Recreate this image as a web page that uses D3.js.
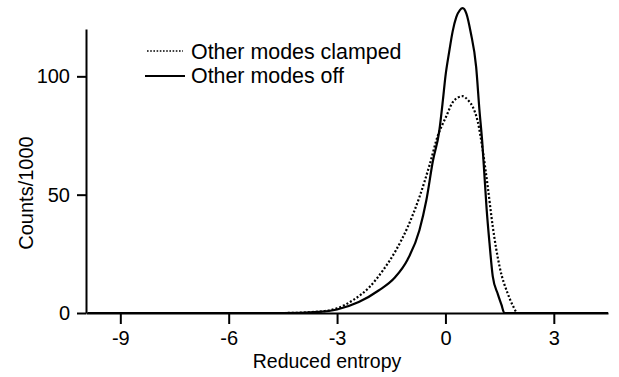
<!DOCTYPE html>
<html><head><meta charset="utf-8">
<script src="https://cdn.jsdelivr.net/npm/d3@7"></script>
<style>
body{margin:0;background:#fff;}
text{font-family:"Liberation Sans",Arial,sans-serif;fill:#000;}
</style></head>
<body><svg id="c" width="619" height="377"></svg>
<script>
const xTicks = [-9, -6, -3, 0, 3];
const yTicks = [0, 50, 100];
const seriesNames = ["Other modes clamped", "Other modes off"];
const offX = [-9.9, -4.5, -3.5, -3.0, -2.4, -1.85, -1.4, -1.05, -0.72, -0.53, -0.35, -0.17, -0.07, 0.0, 0.1, 0.2, 0.3, 0.4, 0.48, 0.58, 0.7, 0.85, 0.94, 1.02, 1.08, 1.14, 1.22, 1.31, 1.45, 1.55, 1.63, 4.5];
const offY = [0, 0, 0.5, 1.5, 4.6, 9.5, 15, 22.5, 35, 47.5, 64, 77, 90, 100, 110, 119, 125, 128, 128.8, 126.5, 118.5, 104, 86, 72, 58, 44, 29.5, 15.5, 8, 3.5, 0, 0];
const clampX = [-9.9, -4.5, -3.5, -3.0, -2.55, -2.1, -1.73, -1.37, -1.04, -0.72, -0.44, -0.21, 0.02, 0.2, 0.34, 0.48, 0.62, 0.76, 0.9, 1.03, 1.17, 1.31, 1.5, 1.73, 1.87, 2.0, 4.5];
const clampY = [0, 0, 0.6, 2, 5.5, 11, 18, 26.5, 36.5, 49, 62.5, 75, 83, 89, 91, 91.6, 90, 87, 80.5, 69, 53.5, 36.5, 19.5, 8, 3, 0, 0];

const svg = d3.select("#c");
const x = d3.scaleLinear().domain([-9.95, 4.5]).range([86, 608]);
const y = d3.scaleLinear().domain([0, 120]).range([313, 29]);

const xa = svg.append("g").attr("transform", "translate(0,313)")
  .call(d3.axisBottom(x).tickValues(xTicks).tickSize(11).tickSizeOuter(0).tickPadding(7).tickFormat(d3.format("d")));
const ya = svg.append("g").attr("transform", "translate(86,0)")
  .call(d3.axisLeft(y).tickValues(yTicks).tickSize(9).tickSizeOuter(0).tickPadding(7));
[xa, ya].forEach(g => {
  g.selectAll("path.domain").attr("stroke", "#000").attr("stroke-width", 2);
  g.selectAll(".tick line").attr("stroke", "#000").attr("stroke-width", 2);
  g.selectAll(".tick text").attr("font-size", 20).attr("font-family", "Liberation Sans, Arial, sans-serif").attr("fill", "#000");
});
xa.selectAll(".tick text").text(d => d < 0 ? "-" + Math.abs(d) : d);

const line = d3.line().x(d => x(d[0])).y(d => y(d[1])).curve(d3.curveMonotoneX);
const clampData = clampX.map((v, i) => [v, clampY[i]]);
const offData = offX.map((v, i) => [v, offY[i]]);

svg.append("path").datum(clampData).attr("d", line)
  .attr("fill", "none").attr("stroke", "#000").attr("stroke-width", 2.2).attr("stroke-dasharray", "2,2");
svg.append("path").datum(offData).attr("d", line)
  .attr("fill", "none").attr("stroke", "#000").attr("stroke-width", 2.2);

// legend
const lg = svg.append("g");
lg.append("line").attr("x1", 147).attr("x2", 183).attr("y1", 51).attr("y2", 51)
  .attr("stroke", "#000").attr("stroke-width", 1.6).attr("stroke-dasharray", "1.6,1.6");
lg.append("line").attr("x1", 145).attr("x2", 185).attr("y1", 76).attr("y2", 76)
  .attr("stroke", "#000").attr("stroke-width", 2);
lg.append("text").attr("x", 191).attr("y", 59).attr("font-size", 21.4).text(seriesNames[0]);
lg.append("text").attr("x", 191).attr("y", 83).attr("font-size", 21.4).text(seriesNames[1]);

// axis titles
svg.append("text").attr("x", 327).attr("y", 368).attr("text-anchor", "middle").attr("font-size", 19.5).text("Reduced entropy");
svg.append("text").attr("transform", "translate(33,193) rotate(-90)").attr("text-anchor", "middle").attr("font-size", 20).text("Counts/1000");
</script></body></html>
